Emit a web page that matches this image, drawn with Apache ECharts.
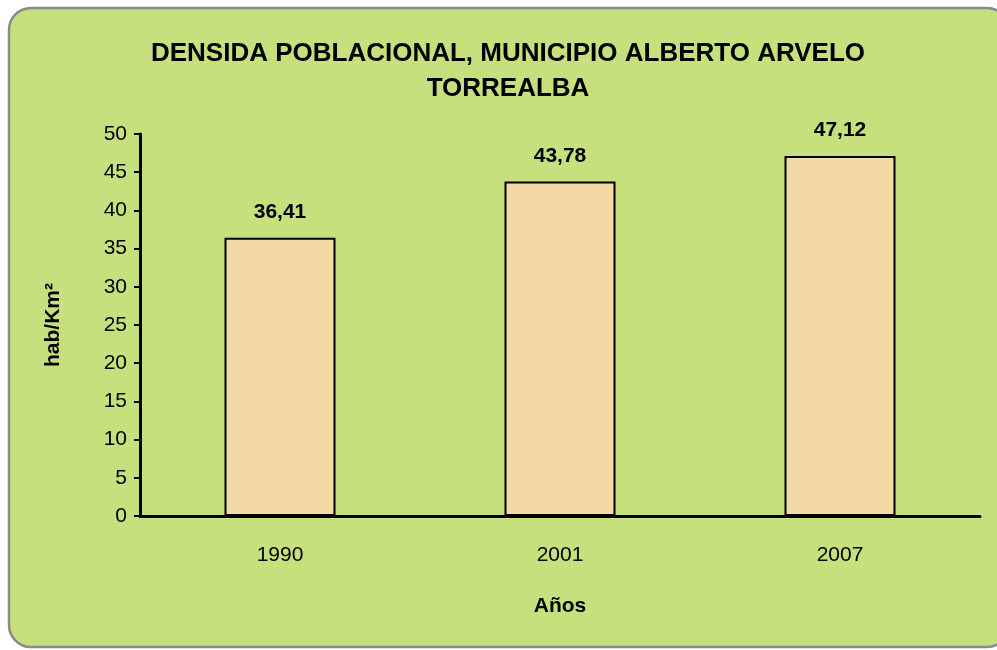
<!DOCTYPE html>
<html>
<head>
<meta charset="utf-8">
<script src="https://cdn.jsdelivr.net/npm/echarts@6/dist/echarts.min.js"></script>
<style>
  html, body { margin: 0; padding: 0; background: #fff; }
  #chart { width: 997px; height: 650px; }
</style>
</head>
<body>
<div id="chart"></div>
<script>
// datos del grafico
const years = ['1990', '2001', '2007']
const density = [36.41, 43.78, 47.12]
const yTicks = [0, 5, 10, 15, 20, 25, 30, 35, 40, 45, 50]

const FONT = '"Liberation Sans Narrow", "Arial Narrow", "Liberation Sans", Arial, sans-serif'

const chart = echarts.init(document.getElementById('chart'), null, { renderer: 'canvas' })

chart.setOption({
  animation: false,
  backgroundColor: '#fff',
  graphic: [{
    type: 'rect',
    z: -10,
    shape: { x: 9, y: 8, width: 1000, height: 639, r: 22 },
    style: { fill: '#c5e07d', stroke: '#8a8a8a', lineWidth: 2.5 }
  }],
  title: {
    text: 'DENSIDA POBLACIONAL, MUNICIPIO ALBERTO ARVELO\nTORREALBA',
    left: 503,
    textAlign: 'center',
    top: 31,
    textStyle: {
      fontFamily: FONT,
      fontWeight: 'bold',
      fontSize: 26,
      lineHeight: 35,
      color: '#000'
    }
  },
  grid: { left: 140, right: 17, top: 134, bottom: 134, containLabel: false },
  xAxis: {
    type: 'category',
    data: years,
    name: 'Años',
    nameLocation: 'middle',
    nameGap: 80,
    nameTextStyle: { fontFamily: FONT, fontWeight: 'bold', fontSize: 21, color: '#000' },
    axisLine: { lineStyle: { color: '#000', width: 3 } },
    axisTick: { show: false },
    axisLabel: { fontFamily: FONT, fontSize: 21, color: '#000', margin: 29 }
  },
  yAxis: {
    type: 'value',
    min: yTicks[0],
    max: yTicks[yTicks.length - 1],
    interval: 5,
    name: 'hab/Km²',
    nameLocation: 'middle',
    nameGap: 76,
    nameRotate: 90,
    nameTextStyle: { fontFamily: FONT, fontWeight: 'bold', fontSize: 21, color: '#000' },
    splitLine: { show: false },
    axisLine: { show: true, lineStyle: { color: '#000', width: 3 } },
    axisTick: { show: true, length: 6, lineStyle: { color: '#000', width: 2 } },
    axisLabel: { fontFamily: FONT, fontSize: 21, color: '#000', margin: 13 }
  },
  series: [{
    type: 'bar',
    data: density,
    barWidth: 111,
    itemStyle: {
      color: '#f3d9a3',
      borderColor: '#000',
      borderWidth: 2
    },
    label: {
      show: true,
      position: 'top',
      distance: 15,
      fontFamily: FONT,
      fontWeight: 'bold',
      fontSize: 21,
      color: '#000',
      formatter: p => p.value.toFixed(2).replace('.', ',')
    }
  }]
})
</script>
</body>
</html>
